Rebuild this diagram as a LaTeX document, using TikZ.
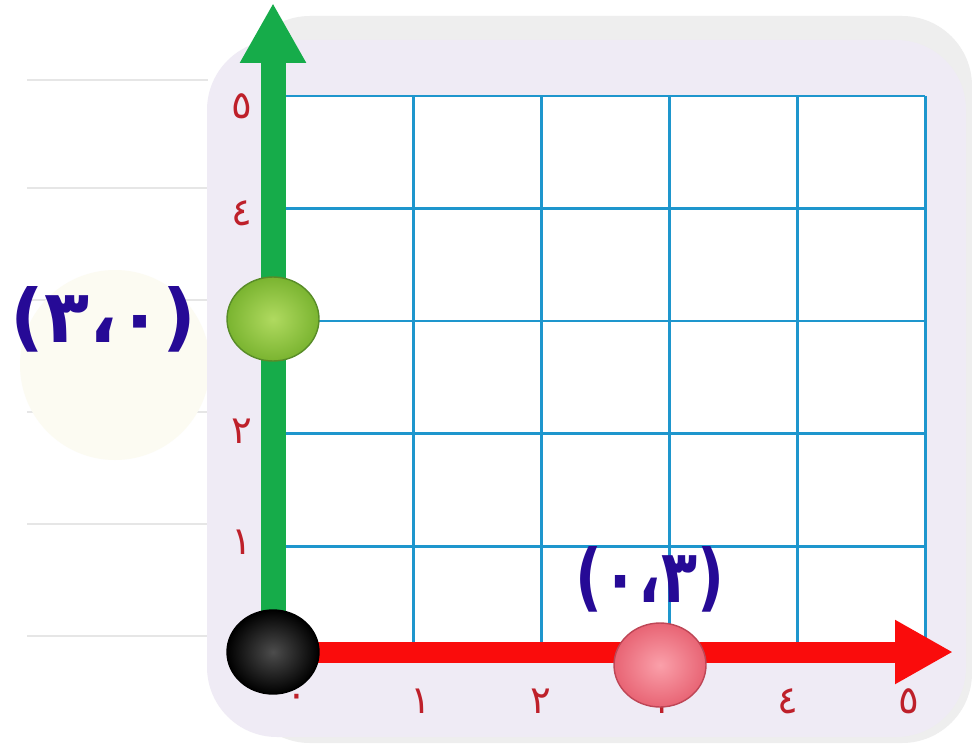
\documentclass[tikz,border=0pt]{standalone}
\usepackage{fontspec}
\usetikzlibrary{positioning,arrows.meta,shapes.geometric}
\TeXXeTstate=1
\newfontfamily\arabicfont[Script=Arabic]{DejaVu Sans}

\definecolor{cardbg}{RGB}{239,235,245}
\definecolor{gridblue}{RGB}{30,150,205}
\definecolor{axisgreen}{RGB}{22,172,74}
\definecolor{axisred}{RGB}{250,12,12}
\definecolor{digitred}{RGB}{190,32,42}
\definecolor{penblue}{RGB}{38,10,150}
\definecolor{paperline}{RGB}{230,230,230}
\definecolor{paperglow}{RGB}{252,251,242}

\tikzset{
    gridline/.style={draw=gridblue, line width=1.7pt},
    axislabel/.style={text=digitred, inner sep=0pt, font=\arabicfont\fontsize{22}{22}\selectfont},
    pointlabel/.style={text=penblue, inner sep=0pt, font=\arabicfont\bfseries\fontsize{42}{42}\selectfont},
    dot/.style={ellipse, minimum width=1.84cm, minimum height=1.68cm, inner sep=0pt, line width=0.8pt}
}

\begin{document}
\begin{tikzpicture}[x=0.02cm, y=-0.02cm]
    \useasboundingbox (0,0) rectangle (972,743);
    \fill[white] (0,0) rectangle (972,743);

    % paper behind the card
    \foreach \y in {80,188,300,412,524,636}
        \draw[paperline, line width=0.8pt] (27,\y) -- (208,\y);
    \fill[paperglow] (115,365) circle (95);

    % card
    \fill[gray!13] (240,16) [rounded corners=1.4cm] rectangle (972,743);
    \fill[cardbg, rounded corners=1.4cm] (207,40) rectangle (966,737);

    % grid
    \fill[white] (286,96) rectangle (925,652);
    \foreach \i in {1,...,5}
        \draw[gridline] ({285.5+127.9*\i},96) -- ({285.5+127.9*\i},652);
    \foreach \j in {0,...,4}
        \draw[gridline] (286,{96+112.5*\j}) -- (925,{96+112.5*\j});

    % axes
    \coordinate (origin) at (273,652);
    \coordinate (ytip) at (273,3);
    \coordinate (xtip) at (953,652);
    \draw[axisgreen, line width=0.5cm, -{Triangle[length=1.2cm, width=1.24cm]}] (origin) -- (ytip);
    \draw[axisred, line width=0.42cm, -{Triangle[length=1.16cm, width=1.2cm]}] (origin) -- (xtip);

    % axis numbers
    \foreach \d/\x in {٠/297,١/421,٢/541,٣/665,٤/788,٥/909}
        \node[axislabel] at (\x,701) {\d};
    \foreach \d/\y in {١/542,٢/431,٣/321,٤/213,٥/106}
        \node[axislabel] at (242,\y) {\d};

    % points
    \node[dot, draw=black, inner color=black!70, outer color=black] (zero) at (origin) {};
    \node[dot, draw={rgb,255:red,88;green,140;blue,40}, inner color={rgb,255:red,176;green,218;blue,96}, outer color={rgb,255:red,122;green,180;blue,48}] (ypoint) at (273,319) {};
    \node[dot, draw={rgb,255:red,190;green,70;blue,86}, inner color={rgb,255:red,250;green,160;blue,170}, outer color={rgb,255:red,232;green,100;blue,116}] (xpoint) at (660,665) {};

    \node[pointlabel, left=0.6cm of ypoint] (ylabel) {\beginR(٣،٠)\endR};
    \node[pointlabel, above=0.2cm of xpoint, xshift=-0.2cm, xscale=0.8] (xlabel) {\beginR(٠،٣)\endR};
\end{tikzpicture}
\end{document}
